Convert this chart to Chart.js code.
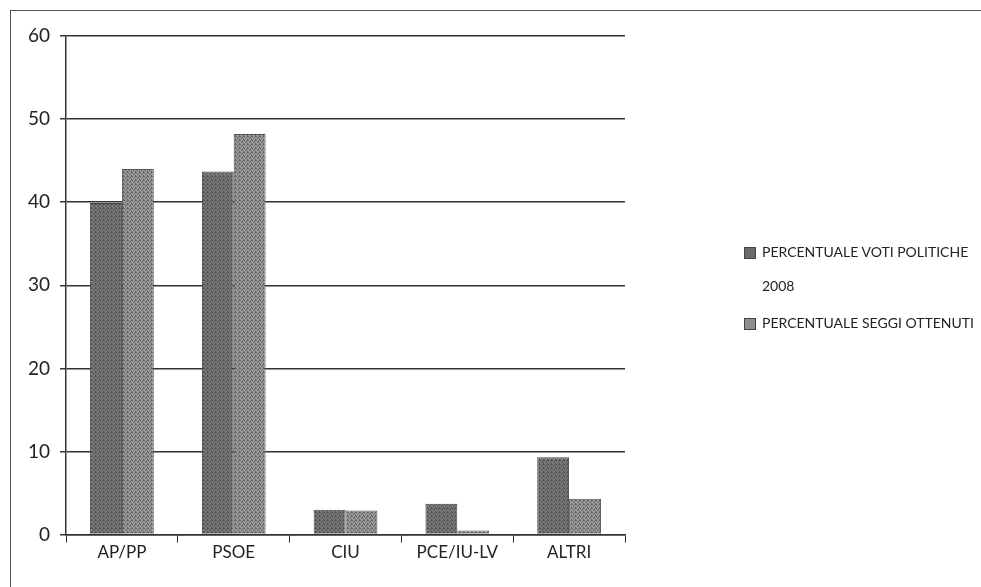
<!DOCTYPE html>
<html>
<head>
<meta charset="utf-8">
<script src="https://cdn.jsdelivr.net/npm/chart.js@4/dist/chart.umd.min.js"></script>
<style>
  html, body { margin: 0; padding: 0; background: #fff; }
  #wrap { position: relative; width: 981px; height: 587px; overflow: hidden; }
  #frame { position: absolute; left: 10px; top: 10px; width: 975px; height: 600px; border: 1px solid #555; }
  #chart { position: absolute; left: 0; top: 0; }
  #legend { position: absolute; left: 744px; top: 235px; font-family: Lato, sans-serif; font-size: 14px; color: #222; line-height: 34px; white-space: nowrap; }
  #legend .item { display: flex; align-items: flex-start; margin-bottom: 3px; }
  #legend .sw { width: 10px; height: 10px; margin: 12px 6px 0 0; border: 1px solid #444; flex: none; }
</style>
</head>
<body>
<div id="wrap">
  <div id="frame"></div>
  <canvas id="chart" width="981" height="587"></canvas>
  <div id="legend"></div>
</div>
<script>
var categories = ['AP/PP', 'PSOE', 'CIU', 'PCE/IU-LV', 'ALTRI'];
var seriesNames = [['PERCENTUALE VOTI POLITICHE', '2008'], ['PERCENTUALE SEGGI OTTENUTI']];
var votiValues = [39.9, 43.7, 3.0, 3.7, 9.3];
var seggiValues = [44.0, 48.2, 2.9, 0.5, 4.3];
var yTicks = [0, 10, 20, 30, 40, 50, 60];

// stippled grey fill, like the scanned print
function makePattern(base, dot) {
    var c = document.createElement('canvas');
    c.width = 4; c.height = 4;
    var g = c.getContext('2d');
    g.fillStyle = base;
    g.fillRect(0, 0, 4, 4);
    g.fillStyle = dot;
    [[0, 0], [2, 1], [1, 2], [3, 3], [3, 0]].forEach(function (p) {
        g.fillRect(p[0], p[1], 1, 1);
    });
    return g.createPattern(c, 'repeat');
}

var ctx = document.getElementById('chart').getContext('2d');
var fillVoti = makePattern('#7a7a7a', '#4a4a4a');
var fillSeggi = makePattern('#9a9a9a', '#5e5e5e');

var chartData = {
    labels: categories,
    datasets: [{
        label: seriesNames[0].join(' '),
        data: votiValues,
        backgroundColor: fillVoti,
        borderColor: '#444',
        borderWidth: 1
    }, {
        label: seriesNames[1].join(' '),
        data: seggiValues,
        backgroundColor: fillSeggi,
        borderColor: '#555',
        borderWidth: 1
    }]
};

var options = {
    responsive: false,
    animation: false,
    layout: { padding: { left: 18, right: 356, top: 36, bottom: 24 } },
    plugins: { legend: { display: false }, tooltip: { enabled: false } },
    datasets: { bar: { categoryPercentage: 0.57, barPercentage: 1.0 } },
    scales: {
        x: {
            grid: {
                offset: true,
                drawOnChartArea: false,
                color: '#333',
                tickLength: 8
            },
            border: { color: '#333', width: 1.5 },
            ticks: { color: '#222', font: { family: 'Lato', size: 17 }, padding: 0 }
        },
        y: {
            min: 0,
            max: 60,
            afterBuildTicks: function (axis) {
                axis.ticks = yTicks.map(function (v) { return { value: v }; });
            },
            grid: { color: '#333', lineWidth: 1.5, tickLength: 6 },
            border: { color: '#333', width: 1.5 },
            ticks: { color: '#222', font: { family: 'Lato', size: 19 }, padding: 10 }
        }
    }
};

new Chart(ctx, { type: 'bar', data: chartData, options: options });

var legend = document.getElementById('legend');
[fillVoti, fillSeggi].forEach(function (f, i) {
    var item = document.createElement('div');
    item.className = 'item';
    var sw = document.createElement('span');
    sw.className = 'sw';
    sw.style.background = i === 0 ? '#6a6a6a' : '#8e8e8e';
    var txt = document.createElement('span');
    txt.innerHTML = seriesNames[i].join('<br>');
    item.appendChild(sw);
    item.appendChild(txt);
    legend.appendChild(item);
});
</script>
</body>
</html>
